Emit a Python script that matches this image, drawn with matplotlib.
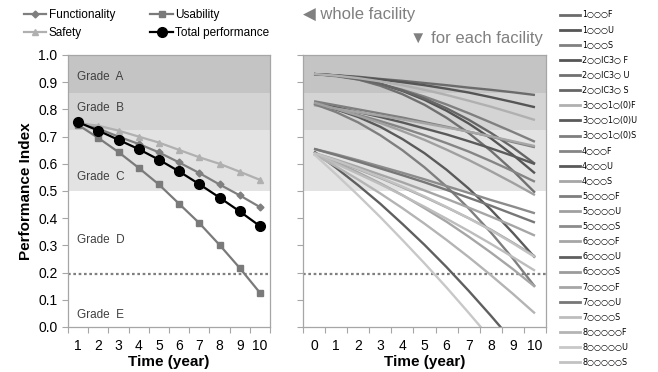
import numpy as np
import matplotlib
matplotlib.use("Agg")
import matplotlib.pyplot as plt
from matplotlib.lines import Line2D

plt.rcParams['font.family'] = ['Liberation Sans', 'DejaVu Sans']

# ---- left panel: whole facility ----
years = np.arange(1, 11)
functionality = [0.755, 0.729, 0.700, 0.673, 0.642, 0.605, 0.566, 0.524, 0.484, 0.441]
usability = [0.743, 0.695, 0.643, 0.585, 0.524, 0.453, 0.382, 0.302, 0.217, 0.126]
safety = [0.749, 0.740, 0.722, 0.700, 0.678, 0.651, 0.624, 0.600, 0.571, 0.541]
total = [0.753, 0.722, 0.688, 0.654, 0.615, 0.572, 0.525, 0.476, 0.425, 0.371]

# ---- right panel: each facility ----
t = np.arange(0, 11)
facility_labels = [
    "1○○○F", "1○○○U", "1○○○S",
    "2○○IC3○ F", "2○○IC3○ U", "2○○IC3○ S",
    "3○○○1○(0)F", "3○○○1○(0)U", "3○○○1○(0)S",
    "4○○○F", "4○○○U", "4○○○S",
    "5○○○○F", "5○○○○U", "5○○○○S",
    "6○○○○F", "6○○○○U", "6○○○○S",
    "7○○○○F", "7○○○○U", "7○○○○S",
    "8○○○○○F", "8○○○○○U", "8○○○○○S",
]
facility_colors = [
    "#6b6b6b", "#555555", "#808080",
    "#555555", "#707070", "#666666",
    "#b0b0b0", "#5a5a5a", "#7f7f7f",
    "#858585", "#5a5a5a", "#a6a6a6",
    "#7f7f7f", "#a0a0a0", "#8c8c8c",
    "#a6a6a6", "#5f5f5f", "#9c9c9c",
    "#a6a6a6", "#777777", "#bdbdbd",
    "#b4b4b4", "#c8c8c8", "#c2c2c2",
]
facility_values = [
    [0.930, 0.925, 0.920, 0.912, 0.905, 0.897, 0.889, 0.880, 0.872, 0.863, 0.853],
    [0.930, 0.925, 0.918, 0.910, 0.900, 0.889, 0.876, 0.862, 0.845, 0.827, 0.808],
    [0.930, 0.922, 0.910, 0.893, 0.872, 0.847, 0.818, 0.786, 0.752, 0.717, 0.681],
    [0.930, 0.925, 0.913, 0.894, 0.868, 0.835, 0.795, 0.748, 0.694, 0.633, 0.565],
    [0.930, 0.924, 0.910, 0.887, 0.856, 0.817, 0.769, 0.713, 0.648, 0.575, 0.494],
    [0.930, 0.924, 0.912, 0.894, 0.870, 0.840, 0.804, 0.762, 0.714, 0.660, 0.600],
    [0.930, 0.924, 0.915, 0.903, 0.889, 0.872, 0.853, 0.832, 0.810, 0.786, 0.761],
    [0.825, 0.808, 0.790, 0.772, 0.752, 0.730, 0.708, 0.683, 0.657, 0.629, 0.599],
    [0.830, 0.815, 0.800, 0.785, 0.770, 0.753, 0.736, 0.718, 0.700, 0.680, 0.661],
    [0.820, 0.800, 0.780, 0.757, 0.732, 0.705, 0.676, 0.645, 0.610, 0.573, 0.534],
    [0.820, 0.800, 0.772, 0.736, 0.691, 0.639, 0.578, 0.509, 0.432, 0.346, 0.255],
    [0.815, 0.803, 0.790, 0.777, 0.763, 0.749, 0.734, 0.718, 0.701, 0.683, 0.665],
    [0.820, 0.790, 0.752, 0.705, 0.650, 0.587, 0.516, 0.436, 0.348, 0.252, 0.148],
    [0.825, 0.802, 0.777, 0.750, 0.720, 0.688, 0.652, 0.614, 0.573, 0.530, 0.485],
    [0.655, 0.635, 0.613, 0.590, 0.567, 0.543, 0.518, 0.493, 0.467, 0.443, 0.418],
    [0.640, 0.615, 0.588, 0.560, 0.532, 0.502, 0.471, 0.439, 0.406, 0.372, 0.336],
    [0.645, 0.585, 0.521, 0.453, 0.379, 0.302, 0.220, 0.133, 0.042, -0.053, -0.153],
    [0.638, 0.610, 0.580, 0.548, 0.514, 0.478, 0.440, 0.400, 0.358, 0.310, 0.260],
    [0.638, 0.605, 0.568, 0.528, 0.485, 0.437, 0.387, 0.332, 0.274, 0.213, 0.148],
    [0.655, 0.632, 0.608, 0.583, 0.558, 0.532, 0.504, 0.475, 0.446, 0.415, 0.384],
    [0.635, 0.600, 0.563, 0.525, 0.484, 0.442, 0.398, 0.353, 0.306, 0.257, 0.207],
    [0.635, 0.590, 0.542, 0.491, 0.437, 0.380, 0.320, 0.257, 0.191, 0.122, 0.050],
    [0.635, 0.561, 0.484, 0.404, 0.320, 0.234, 0.145, 0.052, -0.043, -0.141, -0.242],
    [0.640, 0.612, 0.582, 0.550, 0.516, 0.480, 0.441, 0.400, 0.356, 0.308, 0.257],
]

grade_bands = [(0.86, 1.0, "#c4c4c4"), (0.724, 0.86, "#d4d4d4"), (0.5, 0.724, "#e3e3e3")]
grade_text = [("Grade  A", 0.92), ("Grade  B", 0.805), ("Grade  C", 0.55),
              ("Grade  D", 0.32), ("Grade  E", 0.045)]
limit_line = 0.195

edge = "#a6a6a6"
W, H = 658, 372
fig = plt.figure(figsize=(W / 100, H / 100), dpi=100)
ax1 = fig.add_axes([68 / W, 1 - 327 / H, 202 / W, 272 / H])
ax2 = fig.add_axes([303 / W, 1 - 327 / H, 243 / W, 272 / H])


def style_axis(ax, x0, x1, labels):
    ax.set_xlim(x0 - 0.5, x1 + 0.5)
    ax.set_ylim(0, 1.0)
    for lo, hi, c in grade_bands:
        ax.axhspan(lo, hi, color=c, lw=0, zorder=0)
    ax.axhline(limit_line, color="#7f7f7f", ls=(0, (1.2, 1.2)), lw=1.6, zorder=1)
    for s in ax.spines.values():
        s.set_color(edge)
        s.set_linewidth(0.9)
    ax.set_xticks(np.arange(x0 - 0.5, x1 + 1, 1))
    ax.set_xticklabels([])
    ax.set_xticks(np.arange(x0, x1 + 1), minor=True)
    ax.set_xticklabels(labels, minor=True, fontsize=10)
    ax.tick_params(axis="x", which="major", length=4, color=edge, direction="out")
    ax.tick_params(axis="x", which="minor", length=0, pad=9)
    ax.set_yticks(np.arange(0, 1.01, 0.1))
    ax.tick_params(axis="y", length=4, color=edge, labelsize=10)
    ax.set_xlabel("Time (year)", fontsize=11, fontweight="bold", labelpad=1)


style_axis(ax1, 1, 10, [str(v) for v in years])
ax1.set_yticklabels([f"{v:.1f}" for v in np.arange(0, 1.01, 0.1)])
ax1.set_ylabel("Performance Index", fontsize=11, fontweight="bold", labelpad=4)
for txt, y in grade_text:
    ax1.text(0.95, y, txt, fontsize=8.5, color="#404040", va="center", ha="left")

ax1.plot(years, functionality, "-D", color="#7f7f7f", lw=1.6, ms=3.5, label="Functionality", zorder=3)
ax1.plot(years, usability, "-s", color="#7a7a7a", lw=1.6, ms=4.5, label="Usability", zorder=3)
ax1.plot(years, safety, "-^", color="#b0b0b0", lw=1.6, ms=5, label="Safety", zorder=3)
ax1.plot(years, total, "-o", color="black", lw=1.6, ms=7, label="Total performance", zorder=4)

h, l = ax1.get_legend_handles_labels()
order = [0, 2, 1, 3]
fig.legend([h[i] for i in order], [l[i] for i in order], ncol=2, frameon=False,
           loc="upper left", bbox_to_anchor=(0.02, 1.005), fontsize=8.5,
           handlelength=1.9, handletextpad=0.2, columnspacing=3.0, labelspacing=0.55)

style_axis(ax2, 0, 10, [str(v) for v in t])
ax2.set_yticklabels([])
for vals, c, lab in zip(facility_values, facility_colors, facility_labels):
    ax2.plot(t, vals, color=c, lw=1.7, label=lab, zorder=2, solid_capstyle="butt")

handles = [Line2D([0], [0], color=c, lw=2) for c in facility_colors]
fig.legend(handles, facility_labels, loc="upper left", bbox_to_anchor=(0.843, 0.985),
           frameon=False, handlelength=2.6, handletextpad=0.2,
           labelspacing=0.76, borderaxespad=0.2,
           prop={"family": ["DejaVu Sans"], "size": 5.8})

fig.text(303 / W, 1 - 15 / H, "◀ whole facility", fontsize=12, color="#808080", va="center")
fig.text(410 / W, 1 - 38 / H, "▼ for each facility", fontsize=12, color="#808080", va="center")

fig.savefig("out.png", dpi=100)
